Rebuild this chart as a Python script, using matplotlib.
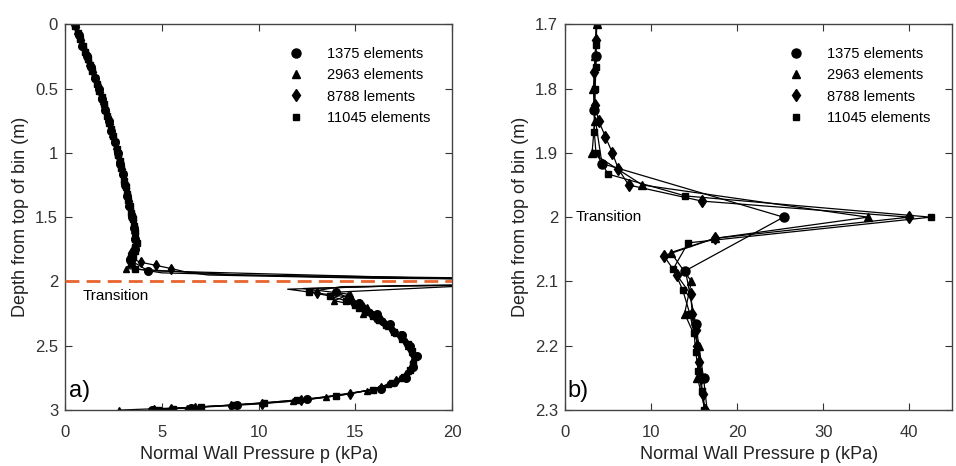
import numpy as np
import matplotlib.pyplot as plt

# mesh 1375 elements (circles)
z_1375 = [i / 12 for i in range(36)] + [2.958, 2.98, 3.0]
p_1375 = [0.50, 0.70, 0.90, 1.12, 1.33, 1.54, 1.75, 1.92, 2.08, 2.25, 2.40, 2.56,
          2.72, 2.85, 2.98, 3.11, 3.22, 3.33, 3.48, 3.56, 3.64, 3.60, 3.35, 4.30,
          25.4, 14.0, 15.2, 16.1, 16.8, 17.4, 17.8, 18.2, 18.0, 17.6, 16.3, 12.5,
          8.9, 6.5, 4.5]

# mesh 2963 elements (triangles)
z_2963 = [0.05 * i for i in range(39)] + [1.95, 2.0, 2.033, 2.055, 2.1, 2.15, 2.2, 2.25,
          2.3, 2.35, 2.4, 2.45, 2.5, 2.55, 2.6, 2.65, 2.7, 2.75, 2.8, 2.85, 2.9, 2.93,
          2.96, 2.98, 3.0]
p_2963 = [0.50, 0.62, 0.75, 0.88, 1.01, 1.13, 1.26, 1.38, 1.50, 1.63, 1.75, 1.86,
          1.96, 2.06, 2.16, 2.26, 2.36, 2.45, 2.54, 2.63, 2.72, 2.80, 2.88, 2.96,
          3.04, 3.11, 3.18, 3.25, 3.32, 3.40, 3.48, 3.54, 3.58, 3.62, 3.68, 3.50,
          3.30, 3.45, 3.15,
          9.0, 35.2, 17.4, 12.3, 14.7, 13.9, 15.6, 15.4, 16.3, 16.7, 17.1, 17.4,
          17.7, 17.9, 18.0, 17.9, 17.7, 17.3, 16.7, 15.6, 13.5, 11.8, 8.8, 6.3, 2.8]

# mesh 8788 elements (diamonds)
z_8788 = [0.025 + 0.05 * i for i in range(37)] + [1.85, 1.875, 1.9, 1.925, 1.95, 1.975,
          2.0, 2.033, 2.06, 2.09, 2.12, 2.15, 2.175, 2.2, 2.225, 2.25, 2.275, 2.3,
          2.325, 2.375, 2.425, 2.475, 2.525, 2.575, 2.625, 2.675, 2.725, 2.775,
          2.825, 2.875, 2.925, 2.95, 2.965, 2.98, 2.99, 3.0]
p_8788 = [0.56, 0.68, 0.81, 0.94, 1.07, 1.19, 1.32, 1.44, 1.57, 1.69, 1.80, 1.91,
          2.01, 2.11, 2.21, 2.31, 2.40, 2.50, 2.58, 2.67, 2.76, 2.84, 2.92, 3.00,
          3.07, 3.15, 3.22, 3.28, 3.36, 3.44, 3.51, 3.56, 3.60, 3.65, 3.62, 3.40,
          3.50,
          3.9, 4.7, 5.5, 6.2, 7.4, 15.9, 40.0, 17.4, 11.5, 13.0, 14.6, 14.8, 15.2,
          15.4, 15.6, 15.8, 16.0, 16.3, 16.5, 16.9, 17.3, 17.6, 17.8, 18.0, 18.0,
          17.9, 17.6, 17.1, 16.3, 14.7, 12.2, 10.2, 8.6, 6.7, 5.5, 4.6]

# mesh 11045 elements (squares)
z_11045 = [0.0167 + 0.05 * i for i in range(34)] + [1.7, 1.733, 1.767, 1.8, 1.833,
           1.867, 1.9, 1.933, 1.967, 2.0, 2.04, 2.08, 2.114, 2.15, 2.18, 2.21, 2.24,
           2.27, 2.3, 2.34, 2.39, 2.44, 2.49, 2.54, 2.59, 2.64, 2.69, 2.74, 2.79,
           2.84, 2.89, 2.92, 2.945, 2.96, 2.975, 2.99, 3.0]
p_11045 = [0.54, 0.66, 0.79, 0.92, 1.05, 1.17, 1.30, 1.42, 1.54, 1.67, 1.78, 1.89,
           1.99, 2.09, 2.19, 2.29, 2.39, 2.48, 2.57, 2.66, 2.75, 2.83, 2.91, 2.98,
           3.06, 3.13, 3.20, 3.27, 3.34, 3.42, 3.50, 3.55, 3.59, 3.63,
           3.7, 3.6, 3.6, 3.5, 3.4, 3.4, 3.6, 5.0, 14.0, 42.5, 14.3, 12.6, 13.7,
           14.5, 15.0, 15.2, 15.5, 15.9, 16.2, 16.6, 17.0, 17.4, 17.7, 17.9, 18.1,
           18.0, 17.8, 17.5, 16.9, 15.9, 14.0, 12.0, 10.3, 8.8, 7.0, 5.6, 4.8]

labels = ['1375 elements', '2963 elements', '8788 lements', '11045 elements']
markers = ['o', '^', 'd', 's']
sizes = [6.5, 6, 6.5, 5]
series = [(z_1375, p_1375), (z_2963, p_2963), (z_8788, p_8788), (z_11045, p_11045)]

tick_font = ['Liberation Sans Narrow', 'Liberation Sans']
plt.rcParams['font.family'] = ['Liberation Sans', 'DejaVu Sans']

fig = plt.figure(figsize=(9.56, 4.66), dpi=100)
ax1 = fig.add_axes([0.068, 0.120, 0.405, 0.828])
ax2 = fig.add_axes([0.591, 0.120, 0.405, 0.828])

for ax in (ax1, ax2):
    for (z, p), m, ms, lab in zip(series, markers, sizes, labels):
        if ax is ax1:
            # overview: no markers on the spike itself, slightly smaller symbols
            keep = [i for i, d in enumerate(z) if not (1.92 < d < 2.065)]
            ax.plot(p, z, color='black', lw=0.9, marker=m, ms=ms - 1, markevery=keep)
        else:
            ax.plot(p, z, color='black', lw=0.9, marker=m, ms=ms)
    leg_handles = [plt.Line2D([], [], ls='none', marker=m, ms=ms, color='black')
                   for m, ms in zip(markers, sizes)]
    ax.legend(leg_handles, labels, loc='upper right', frameon=False, fontsize=10.5,
              bbox_to_anchor=(0.977, 0.975), handletextpad=1.1, labelspacing=0.5)
    ax.tick_params(direction='in', top=True, right=True, length=5, width=0.8,
                   colors='#333333', labelsize=12, pad=5)
    ax.tick_params(axis='x', pad=11)
    for sp in ax.spines.values():
        sp.set_color('#444444')
        sp.set_linewidth(1.0)
    ax.set_xlabel('Normal Wall Pressure p (kPa)', family=tick_font, fontsize=13, color='#222222')
    ax.set_ylabel('Depth from top of bin (m)', family=tick_font, fontsize=13, color='#222222')

ax1.set_xlim(0, 20)
ax1.set_ylim(3, 0)
ax1.set_xticks([0, 5, 10, 15, 20])
ax1.set_yticks([0, 0.5, 1, 1.5, 2, 2.5, 3])
ax1.set_yticklabels(['0', '0.5', '1', '1.5', '2', '2.5', '3'], family=tick_font)
ax1.set_xticklabels(['0', '5', '10', '15', '20'], family=tick_font)
ax1.axhline(2.0, color='#E8642E', lw=2.0, ls=(0, (5, 2.6)), zorder=5)
ax1.text(0.9, 2.06, 'Transition', fontsize=11, va='top', ha='left')
ax1.text(0.2, 2.85, 'a)', fontsize=17, va='center', ha='left')

ax2.set_xlim(0, 45)
ax2.set_ylim(2.3, 1.7)
ax2.set_xticks([0, 10, 20, 30, 40])
ax2.set_yticks([1.7, 1.8, 1.9, 2.0, 2.1, 2.2, 2.3])
ax2.set_yticklabels(['1.7', '1.8', '1.9', '2', '2.1', '2.2', '2.3'], family=tick_font)
ax2.set_xticklabels(['0', '10', '20', '30', '40'], family=tick_font)
ax2.text(1.2, 2.0, 'Transition', fontsize=11, va='center', ha='left')
ax2.text(0.3, 2.27, 'b)', fontsize=17, va='center', ha='left')

fig.savefig('out.png', dpi=100)
